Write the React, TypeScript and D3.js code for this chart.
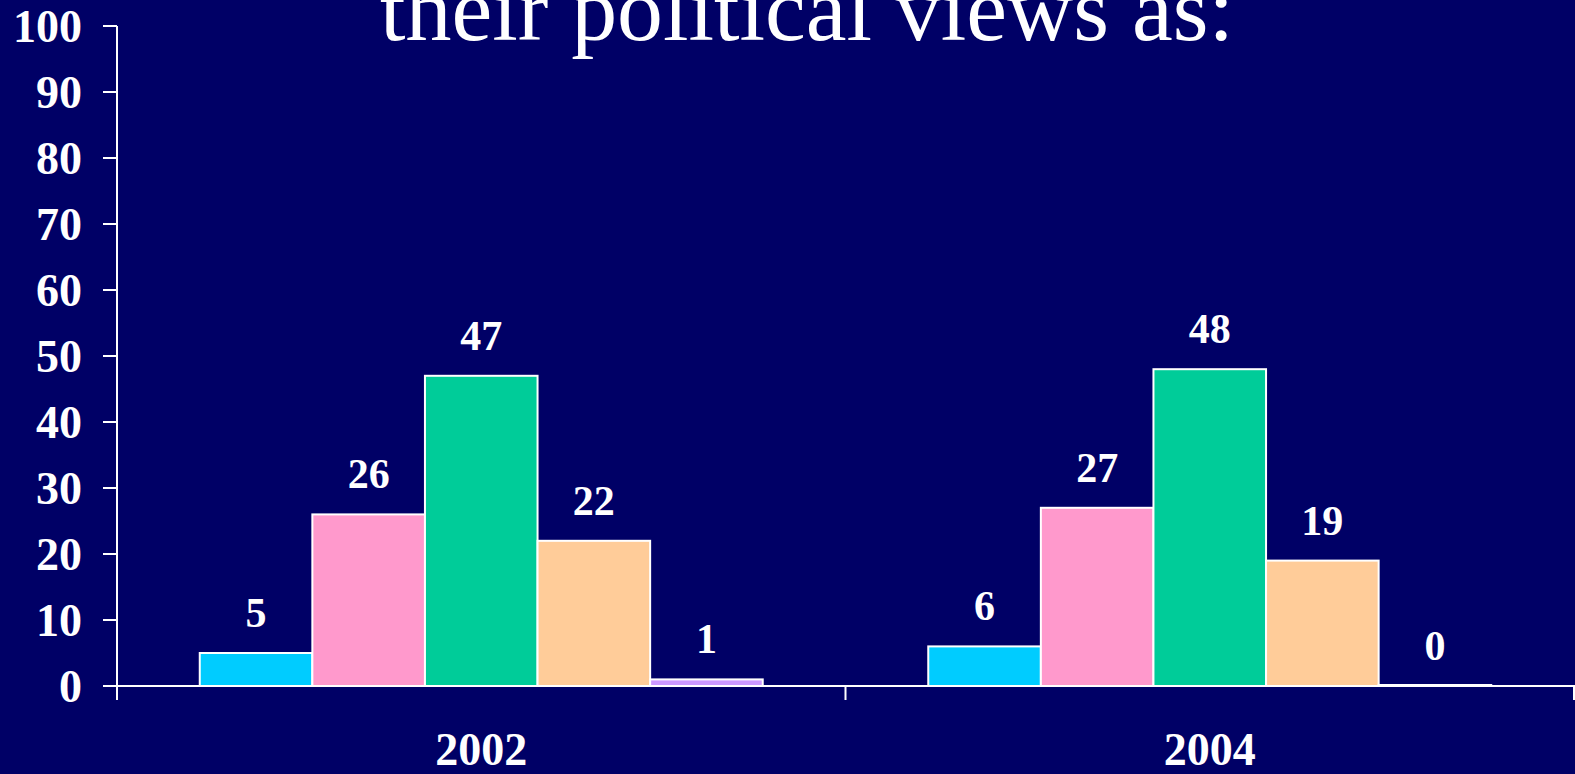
import React from "react";
import * as d3 from "d3";

const categories = ["2002", "2004"];
const seriesNames = ["Far left", "Liberal", "Middle of the road", "Conservative", "Far right"];
const values2002 = [5, 26, 47, 22, 1];
const values2004 = [6, 27, 48, 19, 0];
const seriesColors = ["#00CCFF", "#FF99CC", "#00CC99", "#FFCC99", "#CC99FF"];
const yTicks = [0, 10, 20, 30, 40, 50, 60, 70, 80, 90, 100];
const titleText = "their political views as:";

const W = 1575;
const H = 774;
const BG = "#000066";
const FONT = "'Liberation Serif', 'Times New Roman', serif";

export default function App() {
  const data = [values2002, values2004];
  const y = d3.scaleLinear().domain([0, 100]).range([686, 26]);
  const x0 = d3.scaleBand<string>().domain(categories).range([117, 1574]).paddingInner(0).paddingOuter(0);
  const x1 = d3
    .scaleBand<string>()
    .domain(seriesNames)
    .range([0, x0.bandwidth()])
    .paddingInner(0)
    .paddingOuter(0.735);

  return (
    <svg
      width={W}
      height={H}
      style={{ position: "absolute", left: 0, top: 0, display: "block" }}
      fontFamily={FONT}
    >
      <rect x={0} y={0} width={W} height={H} fill={BG} />
      <text
        x={380}
        y={40}
        fill="white"
        fontSize={91}
        textLength={854}
        lengthAdjust="spacingAndGlyphs"
      >
        {titleText}
      </text>

      {/* bars */}
      {categories.map((c, ci) =>
        seriesNames.map((s, si) => {
          const v = data[ci][si];
          const bx = (x0(c) as number) + (x1(s) as number);
          const bw = x1.bandwidth();
          const top = y(v);
          return (
            <g key={c + s}>
              <rect
                x={bx}
                y={top - (v === 0 ? 1 : 0)}
                width={bw}
                height={Math.max(y(0) - top, 1)}
                fill={seriesColors[si]}
                stroke="white"
                strokeWidth={2}
              />
              <text
                x={bx + bw / 2}
                y={top - 26}
                fill="white"
                fontSize={42}
                fontWeight="bold"
                textAnchor="middle"
              >
                {v}
              </text>
            </g>
          );
        })
      )}

      {/* y axis */}
      <line x1={117} x2={117} y1={y(100)} y2={700} stroke="white" strokeWidth={2} />
      {yTicks.map((t) => (
        <g key={t}>
          <line x1={103} x2={117} y1={y(t)} y2={y(t)} stroke="white" strokeWidth={2} />
          <text
            x={82}
            y={y(t) + 16}
            fill="white"
            fontSize={46}
            fontWeight="bold"
            textAnchor="end"
          >
            {t}
          </text>
        </g>
      ))}

      {/* x axis */}
      <line x1={117} x2={1575} y1={y(0)} y2={y(0)} stroke="white" strokeWidth={2} />
      {categories.map((c) => (
        <line
          key={"t" + c}
          x1={(x0(c) as number) + x0.bandwidth()}
          x2={(x0(c) as number) + x0.bandwidth()}
          y1={y(0)}
          y2={700}
          stroke="white"
          strokeWidth={2}
        />
      ))}
      {categories.map((c) => (
        <text
          key={"l" + c}
          x={(x0(c) as number) + x0.bandwidth() / 2}
          y={765}
          fill="white"
          fontSize={46}
          fontWeight="bold"
          textAnchor="middle"
        >
          {c}
        </text>
      ))}
    </svg>
  );
}
